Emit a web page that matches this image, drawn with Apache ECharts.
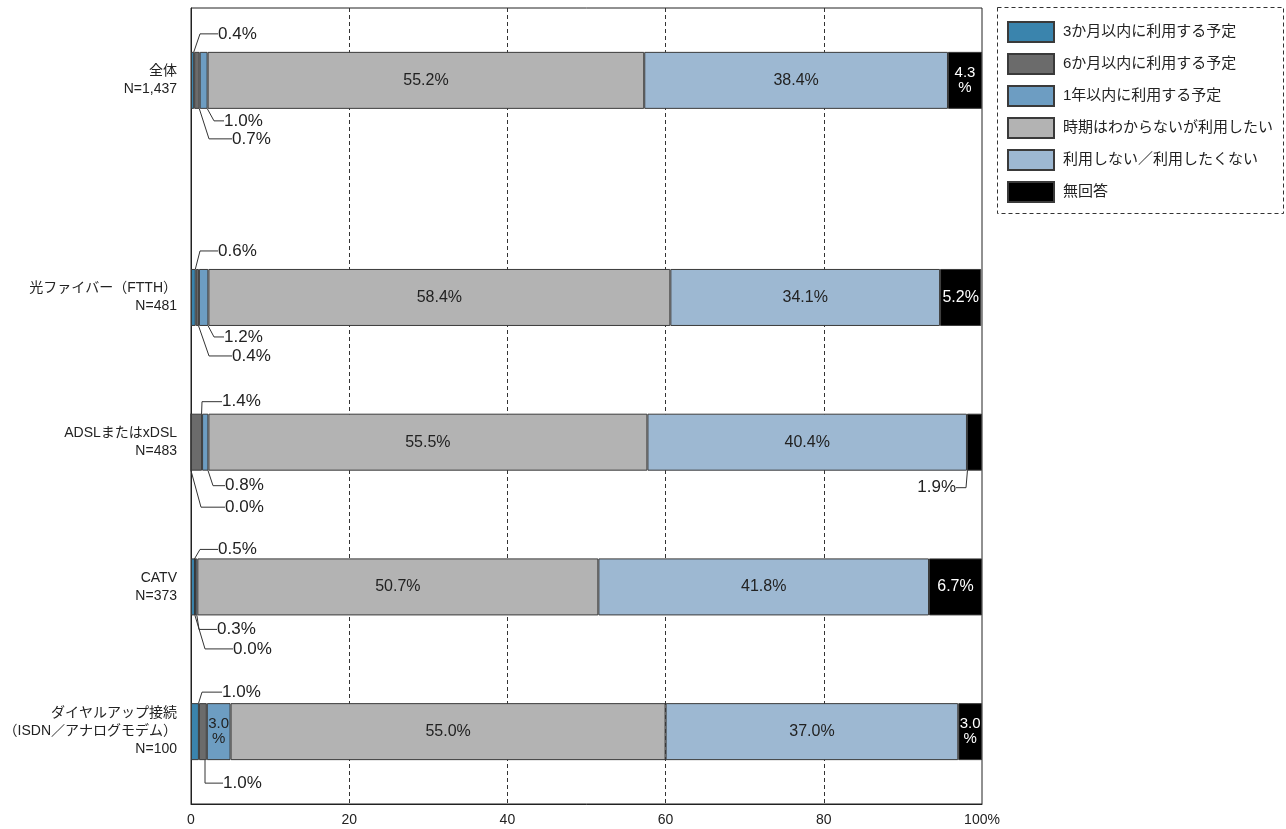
<!DOCTYPE html>
<html><head><meta charset="utf-8">
<script src="https://cdn.jsdelivr.net/npm/echarts@6/dist/echarts.min.js"></script>
<style>html,body{margin:0;padding:0;background:#fff}#c{width:1286px;height:829px}</style>
</head><body><div id="c"></div>
<script>
// ---- data ----
const categories = ['全体\nN=1,437', '光ファイバー（FTTH）\nN=481', 'ADSLまたはxDSL\nN=483', 'CATV\nN=373', 'ダイヤルアップ接続\n（ISDN／アナログモデム）\nN=100'];
const seriesNames = ['3か月以内に利用する予定', '6か月以内に利用する予定', '1年以内に利用する予定', '時期はわからないが利用したい', '利用しない／利用したくない', '無回答'];
const within3m  = [0.4, 0.6, 0.0, 0.5, 1.0];
const within6m  = [0.7, 0.4, 1.4, 0.0, 1.0];
const within1y  = [1.0, 1.2, 0.8, 0.3, 3.0];
const undecided = [55.2, 58.4, 55.5, 50.7, 55.0];
const notUse    = [38.4, 34.1, 40.4, 41.8, 37.0];
const noAnswer  = [4.3, 5.2, 1.9, 6.7, 3.0];
const xTicks = [0, 20, 40, 60, 80, 100];

// ---- layout / style config ----
const FONT = '"Liberation Sans", Arial, "Noto Sans CJK JP", sans-serif';
const GRID_LEFT = 191, GRID_TOP = 8, GRID_RIGHT = 304, GRID_BOTTOM = 25;
const SLOT_COUNT = 12;
const rowSlots = [1, 4, 6, 8, 10];
const colors = ['#3a84ad', '#6b6b6b', '#6d9dc2', '#b3b3b3', '#9db8d2', '#000000'];
// callouts: series s, row r, side, horizontal offset, vertical gap, horizontal leader length
const callouts = [
  {s:0, r:0, side:'top',    x:25, d:18, len:18},
  {s:2, r:0, side:'bottom', x:31, d:12, len:10},
  {s:1, r:0, side:'bottom', x:39, d:30, len:23},
  {s:0, r:1, side:'top',    x:25, d:18, len:18},
  {s:2, r:1, side:'bottom', x:31, d:11, len:10},
  {s:1, r:1, side:'bottom', x:39, d:30, len:23},
  {s:1, r:2, side:'top',    x:29, d:12, len:20},
  {s:2, r:2, side:'bottom', x:32, d:15, len:12},
  {s:0, r:2, side:'bottom', x:32, d:36, len:24},
  {s:5, r:2, side:'bottom', x:24, d:17, len:10, fromEnd:true},
  {s:0, r:3, side:'top',    x:25, d:9,  len:18},
  {s:2, r:3, side:'bottom', x:24, d:14, len:18},
  {s:1, r:3, side:'bottom', x:40, d:33, len:28},
  {s:0, r:4, side:'top',    x:29, d:11, len:20},
  {s:1, r:4, side:'bottom', x:30, d:23, len:18}
];
const twoLineInside = {'5_0': '#fff', '5_4': '#fff', '2_4': '#222'};

const callMap = {};
callouts.forEach(c => { callMap[c.s + '_' + c.r] = c; });
const slotToRow = {};
rowSlots.forEach((sl, r) => { slotToRow[sl] = r; });

const yCats = [];
for (let i = 0; i < SLOT_COUNT; i++) {
  const r = rowSlots.indexOf(i);
  yCats.push(r >= 0 ? categories[r] : 'gap' + i);
}

const fmt = v => v.toFixed(1) + '%';
const seriesValues = [within3m, within6m, within1y, undecided, notUse, noAnswer];

function layoutFn(p) {
  const row = slotToRow[p.dataIndex];
  const c = callMap[p.seriesIndex + '_' + row];
  if (!c) return {};
  const rc = p.rect;
  const y = c.side === 'top' ? rc.y - c.d : rc.y + rc.height + c.d;
  if (c.fromEnd) {
    return { x: rc.x + rc.width - c.x, y: y, align: 'right', verticalAlign: 'middle' };
  }
  return { x: GRID_LEFT + c.x, y: y, align: 'left', verticalAlign: 'middle' };
}

const series = seriesValues.map((vals, s) => {
  const data = yCats.map(() => null);
  vals.forEach((v, r) => {
    const key = s + '_' + r;
    const item = { value: v };
    if (callMap[key]) {
      const c = callMap[key];
      item.label = { show: true, formatter: fmt(v), fontSize: 17, color: '#222', fontFamily: FONT,
        padding: c.fromEnd ? [0, 2, 0, 0] : [0, 0, 0, 2] };
      item.labelLine = { show: true, length2: c.len, lineStyle: { color: '#333', width: 1 } };
    } else if (twoLineInside[key]) {
      item.label = { show: true, position: 'inside', formatter: v.toFixed(1) + '\n%', fontSize: 15, lineHeight: 15, color: twoLineInside[key], fontFamily: FONT };
    } else if (s >= 3) {
      item.label = { show: true, position: 'inside', formatter: fmt(v), fontSize: 16, color: s === 5 ? '#fff' : '#222', fontFamily: FONT };
    }
    data[rowSlots[r]] = item;
  });
  return {
    type: 'bar', name: seriesNames[s], stack: 'total', barWidth: 57,
    data: data,
    itemStyle: { color: colors[s], borderColor: '#3a3a3a', borderWidth: 1 },
    label: { show: false },
    labelLayout: layoutFn,
    emphasis: { disabled: true }
  };
});

const chart = echarts.init(document.getElementById('c'), null, { renderer: 'canvas' });
chart.setOption({
  animation: false,
  backgroundColor: '#fff',
  textStyle: { fontFamily: FONT },
  grid: { left: GRID_LEFT, top: GRID_TOP, right: GRID_RIGHT, bottom: GRID_BOTTOM, show: true, borderColor: '#222', borderWidth: 1, containLabel: false, outerBoundsMode: 'none' },
  legend: {
    data: seriesNames, orient: 'vertical', left: 1007, top: 21,
    itemWidth: 46, itemHeight: 20, itemGap: 10, padding: 0,
    icon: 'rect',
    textStyle: { fontSize: 15, color: '#222', fontFamily: FONT, padding: [0, 0, 0, 4] },
    selectedMode: false
  },
  graphic: [{
    type: 'rect', silent: true,
    shape: { x: 997.5, y: 7.5, width: 286, height: 206 },
    style: { fill: 'none', stroke: '#333', lineWidth: 1, lineDash: [4, 3] }
  }],
  xAxis: {
    type: 'value', min: xTicks[0], max: xTicks[xTicks.length - 1], interval: xTicks[1] - xTicks[0],
    axisLine: { show: true, lineStyle: { color: '#222', width: 1 } },
    axisTick: { show: false },
    splitLine: { show: true, showMinLine: false, showMaxLine: false, lineStyle: { color: '#333', type: [4, 3], width: 1 } },
    axisLabel: { fontSize: 14, color: '#222', margin: 9, fontFamily: FONT,
      formatter: v => (v === xTicks[xTicks.length - 1] ? v + '%' : String(v)) }
  },
  yAxis: {
    type: 'category', data: yCats, inverse: true, boundaryGap: false,
    axisLine: { show: true, lineStyle: { color: '#222', width: 1 } },
    axisTick: { show: false },
    splitLine: { show: false },
    axisLabel: { interval: 0, fontSize: 14, lineHeight: 18, color: '#222', margin: 14, align: 'right', fontFamily: FONT,
      formatter: v => (v.indexOf('gap') === 0 ? '' : v) }
  },
  series: series
});
</script>
</body></html>
